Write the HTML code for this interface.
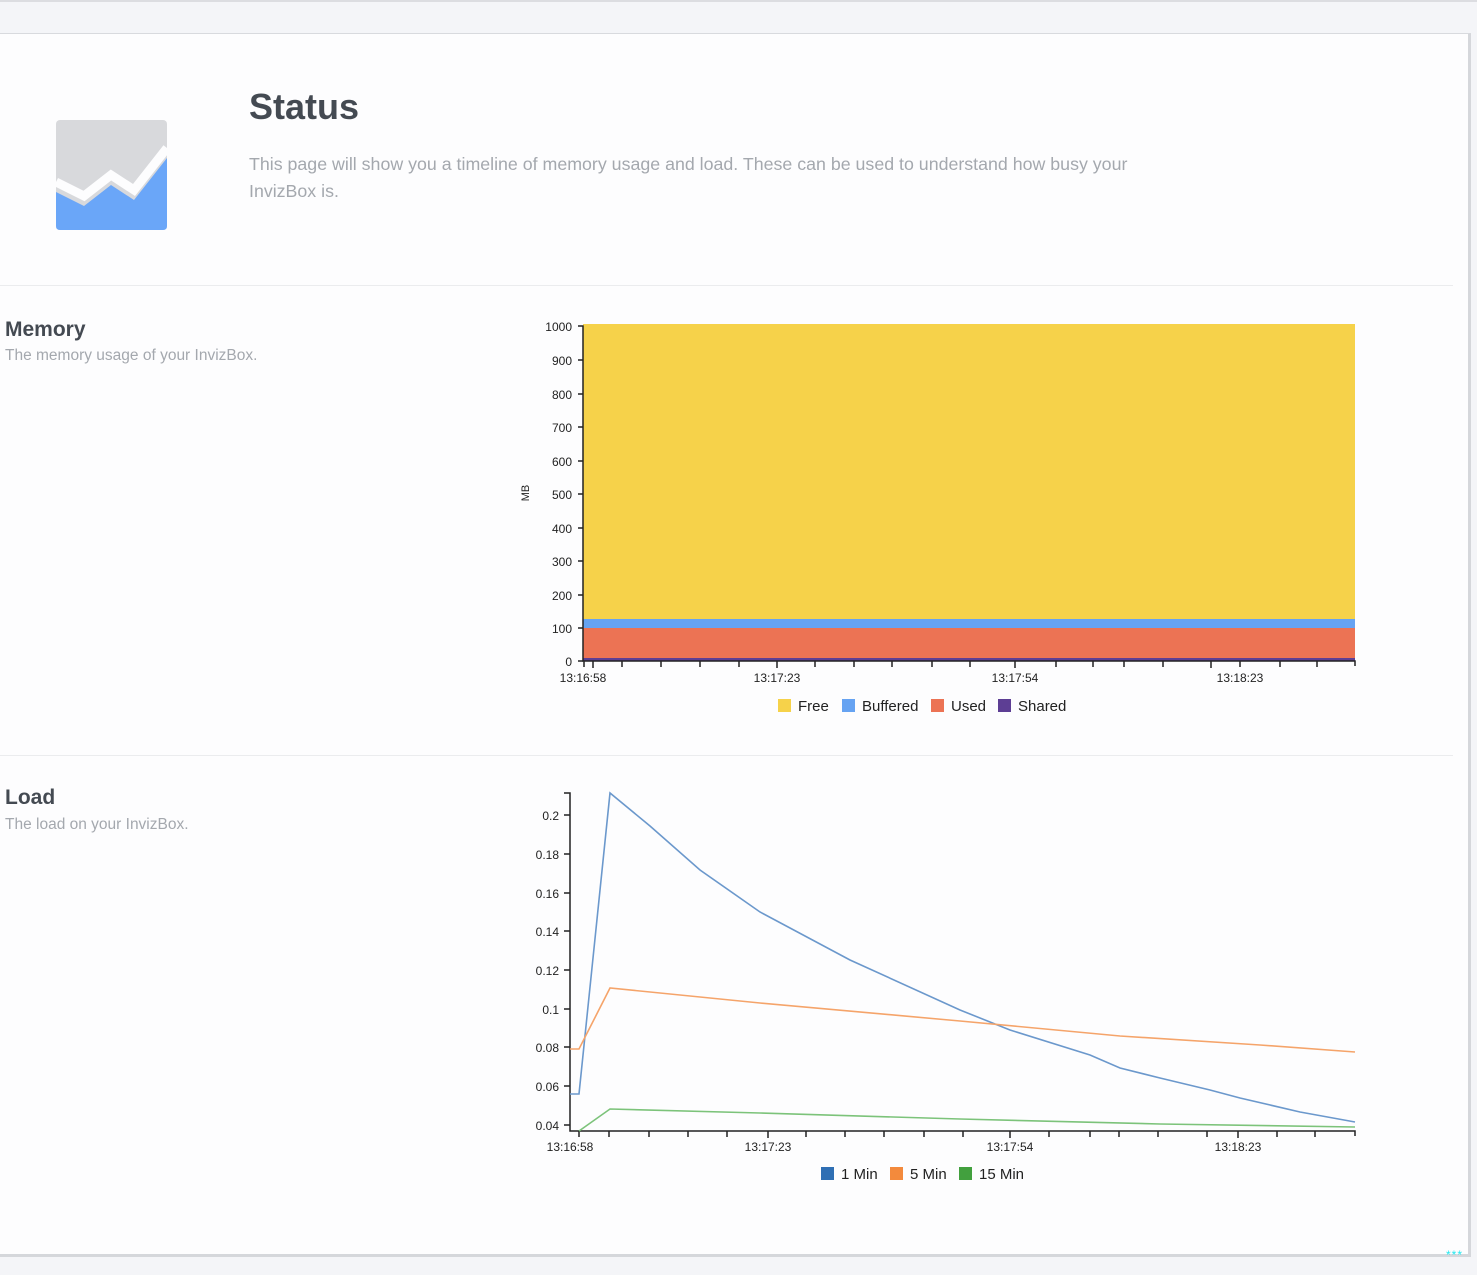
<!DOCTYPE html>
<html><head><meta charset="utf-8"><style>
html,body{margin:0;padding:0;width:1477px;height:1275px;background:#f4f5f8;overflow:hidden;font-family:"Liberation Sans",sans-serif}
.card{position:absolute;left:-2px;top:33px;width:1469px;height:1220px;background:#fdfdfe;border:1px solid #d8dade;border-right:3px solid #d5d7db;border-bottom:3px solid #d5d7db}
.t{position:absolute;white-space:nowrap}
</style></head><body>
<div style="position:absolute;left:0;top:0;width:1477px;height:2px;background:#dcdde1"></div>
<div class="card"></div>
<svg style="position:absolute;left:56px;top:120px" width="111" height="111" viewBox="0 0 111 111">
<rect x="0" y="0" width="111" height="110" rx="4" fill="#d8d9dc"/>
<path d="M0 72 L28 86 L55 65 L78 80 L111 38 L111 106 Q111 110 107 110 L4 110 Q0 110 0 106Z" fill="#6aa6f8"/>
<path d="M0 62 L28 76 L55 55 L78 70 L111 28" fill="none" stroke="#fdfdfe" stroke-width="9"/>
</svg>
<div class="t" style="left:249px;top:86px;font-size:36px;font-weight:bold;color:#444a52">Status</div>
<div class="t" style="left:249px;top:151px;font-size:17.8px;line-height:27px;color:#a4a8ae">This page will show you a timeline of memory usage and load. These can be used to understand how busy your<br>InvizBox is.</div>
<div style="position:absolute;left:0;top:285px;width:1453px;height:1px;background:#ebecee"></div>
<div style="position:absolute;left:0;top:755px;width:1453px;height:1px;background:#ebecee"></div>
<div class="t" style="left:5px;top:318px;font-size:21px;font-weight:bold;color:#444a52">Memory</div>
<div class="t" style="left:5px;top:347px;font-size:15.5px;color:#a4a8ae">The memory usage of your InvizBox.</div>
<div class="t" style="left:5px;top:786px;font-size:21px;font-weight:bold;color:#444a52">Load</div>
<div class="t" style="left:5px;top:816px;font-size:15.5px;color:#a4a8ae">The load on your InvizBox.</div>
<div class="t" style="left:1446px;top:1248px;font-size:12px;color:#22e8f0;letter-spacing:1px">***</div>
<svg style="position:absolute;left:0;top:0" width="1477" height="1275" font-family="Liberation Sans, sans-serif" font-size="12" fill="#222">
<rect x="583" y="324" width="772" height="296" fill="#f6d24a"/>
<rect x="583" y="619" width="772" height="10" fill="#66a3f2"/>
<rect x="583" y="628" width="772" height="31" fill="#ec7354"/>
<rect x="583" y="658" width="772" height="3" fill="#5d3e94"/>
<g stroke="#222" stroke-width="1.5" fill="none">
<path d="M578 326 H583 V661 H1355 V666"/>
<path d="M578 360H583M578 394H583M578 427H583M578 461H583M578 494H583M578 528H583M578 561H583M578 595H583M578 628H583M578 661H583"/>
<path d="M584 661v6M593 661v7M622 661v6M661 661v6M700 661v6M739 661v6M777 661v7M815 661v6M854 661v6M892 661v6M932 661v6M970 661v6M1015 661v7M1056 661v6M1093 661v6M1124 661v6M1163 661v6M1211 661v7M1240 661v6M1280 661v6M1317 661v6"/>
</g>
<g text-anchor="end">
<text x="572" y="331">1000</text><text x="572" y="365">900</text><text x="572" y="399">800</text><text x="572" y="432">700</text><text x="572" y="466">600</text><text x="572" y="499">500</text><text x="572" y="533">400</text><text x="572" y="566">300</text><text x="572" y="600">200</text><text x="572" y="633">100</text><text x="572" y="666">0</text>
</g>
<text transform="translate(529,493) rotate(-90)" text-anchor="middle" font-size="11">MB</text>
<g text-anchor="middle">
<text x="583" y="682">13:16:58</text><text x="777" y="682">13:17:23</text><text x="1015" y="682">13:17:54</text><text x="1240" y="682">13:18:23</text>
</g>
<g font-size="15">
<rect x="778" y="699" width="13" height="13" fill="#f6d24a"/><text x="798" y="711">Free</text>
<rect x="842" y="699" width="13" height="13" fill="#66a3f2"/><text x="862" y="711">Buffered</text>
<rect x="931" y="699" width="13" height="13" fill="#ec7354"/><text x="951" y="711">Used</text>
<rect x="998" y="699" width="13" height="13" fill="#5d3e94"/><text x="1018" y="711">Shared</text>
</g>
<g stroke="#222" stroke-width="1.5" fill="none">
<path d="M564 793 H570 V1131 H1355 V1136"/>
<path d="M564 815H570M564 854H570M564 893H570M564 931H570M564 970H570M564 1009H570M564 1047H570M564 1086H570M564 1125H570"/>
<path d="M579 1131v6M609 1131v6M649 1131v6M688 1131v6M727 1131v6M768 1131v7M806 1131v6M845 1131v6M884 1131v6M924 1131v6M963 1131v6M1010 1131v7M1049 1131v6M1090 1131v6M1119 1131v6M1158 1131v6M1207 1131v6M1238 1131v7M1277 1131v6M1315 1131v6"/>
</g>
<g text-anchor="end">
<text x="559" y="820">0.2</text><text x="559" y="859">0.18</text><text x="559" y="898">0.16</text><text x="559" y="936">0.14</text><text x="559" y="975">0.12</text><text x="559" y="1014">0.1</text><text x="559" y="1052">0.08</text><text x="559" y="1091">0.06</text><text x="559" y="1130">0.04</text>
</g>
<g text-anchor="middle">
<text x="570" y="1151">13:16:58</text><text x="768" y="1151">13:17:23</text><text x="1010" y="1151">13:17:54</text><text x="1238" y="1151">13:18:23</text>
</g>
<g fill="none" stroke-width="1.6">
<polyline stroke="#6b98cc" points="570,1094 579,1094 610,793 650,826 700,870 760,912 850,960 960,1010 1010,1030 1090,1055 1120,1068 1160,1078 1210,1090 1240,1098 1300,1112 1355,1122"/>
<polyline stroke="#f5a46a" points="570,1049 579,1049 610,988 760,1003 960,1021 1120,1036 1260,1045 1355,1052"/>
<polyline stroke="#7cc37a" points="579,1131 610,1109 760,1113 960,1119 1160,1124 1355,1127"/>
</g>
<g font-size="15">
<rect x="821" y="1167" width="13" height="13" fill="#2f6fb4"/><text x="841" y="1179">1 Min</text>
<rect x="890" y="1167" width="13" height="13" fill="#f38a3c"/><text x="910" y="1179">5 Min</text>
<rect x="959" y="1167" width="13" height="13" fill="#42a03e"/><text x="979" y="1179">15 Min</text>
</g>
</svg>
</body></html>
